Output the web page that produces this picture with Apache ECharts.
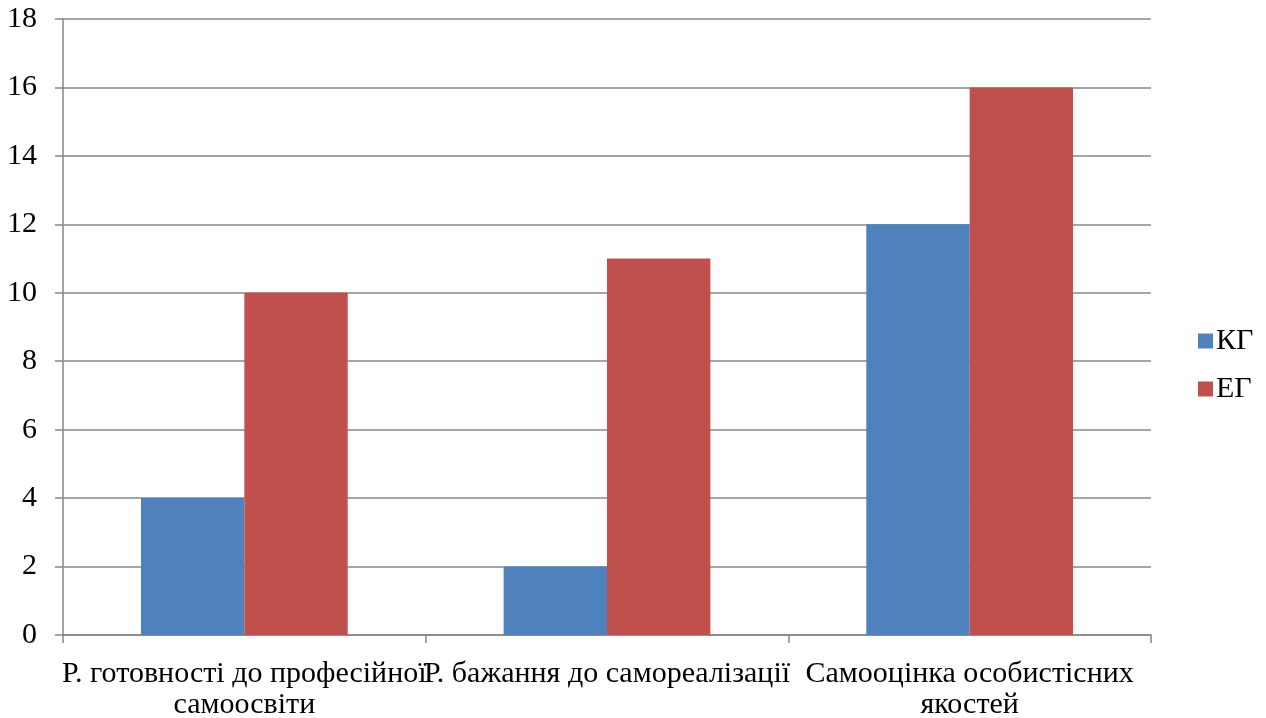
<!DOCTYPE html>
<html><head><meta charset="utf-8">
<script src="https://cdn.jsdelivr.net/npm/echarts@6/dist/echarts.min.js"></script>
<style>html,body{margin:0;padding:0;background:#fff}#c{width:1266px;height:718px}</style>
</head><body><div id="c"></div>
<script>
const categories = ['Р. готовності до професійної\nсамоосвіти', 'Р. бажання до самореалізації', 'Самооцінка особистісних\nякостей'];
const seriesNames = ['КГ', 'ЕГ'];
const kgValues = [4, 2, 12];
const egValues = [10, 11, 16];

const font = 'Liberation Serif';
const chart = echarts.init(document.getElementById('c'));
chart.setOption({
  animation: false,
  backgroundColor: '#fff',
  textStyle: { fontFamily: font },
  grid: { left: 63, right: 115, top: 19, bottom: 83, containLabel: false, outerBoundsMode: 'none' },
  legend: {
    orient: 'vertical', left: 1193, top: 321,
    itemWidth: 15, itemHeight: 15, itemGap: 18, icon: 'rect',
    textStyle: { fontFamily: font, fontSize: 30, color: '#000', padding: [0, 0, 0, -2] },
    data: seriesNames
  },
  xAxis: {
    type: 'category', data: categories,
    axisLine: { lineStyle: { color: '#878787', width: 1.5 } },
    axisTick: { show: true, length: 8, lineStyle: { color: '#878787', width: 1.5 } },
    axisLabel: { fontFamily: font, fontSize: 30, color: '#000', margin: 24, lineHeight: 31, interval: 0 }
  },
  yAxis: {
    type: 'value', min: 0, max: 18, interval: 2,
    axisLine: { show: true, lineStyle: { color: '#878787', width: 1.5 } },
    axisTick: { show: true, length: 8, inside: false, lineStyle: { color: '#878787', width: 1.5 } },
    splitLine: { lineStyle: { color: '#878787', width: 1.5 } },
    axisLabel: { fontFamily: font, fontSize: 30, color: '#000', margin: 26 }
  },
  series: [
    { name: seriesNames[0], type: 'bar', data: kgValues, barGap: '0%', barCategoryGap: '43%', itemStyle: { color: '#4F81BD' } },
    { name: seriesNames[1], type: 'bar', data: egValues, barGap: '0%', barCategoryGap: '43%', itemStyle: { color: '#C0504D' } }
  ]
});
</script></body></html>
